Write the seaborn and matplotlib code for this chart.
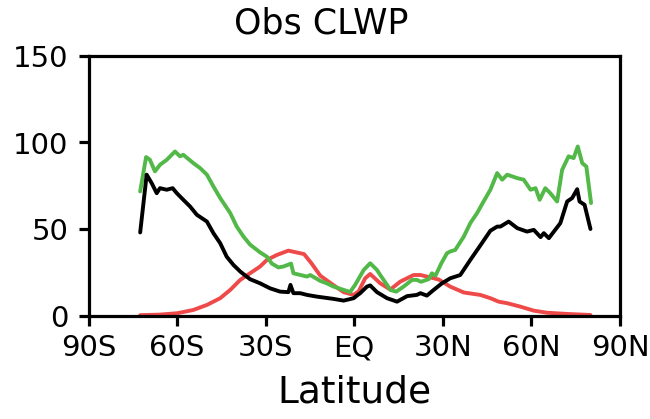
import numpy as np
import pandas as pd
import matplotlib
matplotlib.use("Agg")
import matplotlib.pyplot as plt
import seaborn as sns

# ---- data ----
black_lat = [-72.5, -70.3, -68.6, -66.9, -65.8, -63.5, -61.5, -60.1, -57.9, -55.6, -53.3, -49.9,
             -47.7, -45.4, -43.2, -40.9, -38.6, -35.3, -31.9, -28.5, -25.1, -22.3, -21.6, -20.6,
             -18.3, -16.0, -12.6, -7.0, -3.6, -0.2, 0.9, 2.0, 4.3, 5.4, 7.7, 11.1, 14.5, 17.9,
             21.2, 22.4, 24.6, 26.9, 29.7, 32.5, 35.9, 39.3, 42.7, 46.1, 48.4, 49.5, 52.3, 55.2,
             58.5, 60.8, 63.1, 64.2, 65.9, 67.6, 69.8, 72.1, 73.8, 75.5, 76.3, 78.0, 80.0]
black_val = [48.0, 81.4, 76.5, 70.7, 73.6, 72.7, 73.6, 70.7, 66.9, 63.0, 58.2, 54.3,
             47.6, 41.8, 34.0, 29.2, 25.4, 21.0, 18.6, 15.7, 13.8, 13.5, 17.7, 12.9,
             12.9, 11.9, 10.9, 9.6, 8.6, 10.0, 11.5, 12.9, 16.7, 17.4, 13.5, 10.0, 8.0, 11.2,
             11.9, 12.9, 11.5, 14.8, 18.6, 21.5, 23.4, 32.1, 40.5, 49.0, 51.4, 51.4, 54.3, 50.5,
             48.5, 49.5, 45.3, 47.6, 44.7, 48.5, 53.4, 65.9, 67.9, 73.0, 65.9, 64.0, 50.0]

green_lat = [-72.5, -70.5, -69.2, -67.5, -65.8, -63.5, -60.7, -59.0, -57.9, -54.5, -52.2, -49.9,
             -47.7, -45.4, -42.0, -39.8, -37.5, -35.3, -31.9, -29.6, -27.9, -25.7, -24.0, -21.4,
             -20.6, -16.0, -14.9, -11.5, -9.3, -7.0, -3.6, -1.4, 0.3, 3.2, 5.4, 7.7, 8.8, 11.1,
             12.2, 14.2, 16.7, 19.6, 21.2, 22.6, 25.2, 26.3, 27.5, 29.5, 31.4, 32.5, 34.2, 37.1,
             39.3, 41.6, 43.8, 46.1, 48.4, 50.1, 51.8, 55.2, 57.4, 59.7, 61.4, 62.8, 64.7, 66.4,
             68.7, 70.4, 72.6, 74.3, 75.7, 77.2, 78.6, 80.2]
green_val = [71.7, 91.6, 90.0, 83.3, 87.1, 90.0, 94.8, 92.0, 92.9, 88.1, 85.2, 81.4,
             74.6, 67.9, 59.2, 51.4, 45.6, 41.0, 36.5, 34.0, 30.0, 27.8, 28.3, 30.0,
             24.4, 22.5, 23.4, 20.0, 18.6, 16.7, 14.8, 13.6, 17.7, 26.3, 30.2, 26.3, 23.4, 17.7,
             14.8, 13.8, 16.7, 20.6, 20.6, 19.5, 21.0, 24.4, 23.0, 30.2, 36.0, 37.0, 37.9, 45.6,
             53.4, 59.2, 65.9, 72.7, 82.3, 78.5, 81.4, 79.4, 78.5, 72.7, 73.6, 66.9, 73.6, 70.7,
             65.9, 84.2, 92.0, 91.0, 97.7, 88.1, 86.1, 65.0]

red_lat = [-72.5, -66.0, -60.0, -54.5, -49.9, -45.4, -42.0, -38.6, -35.3, -31.9, -29.6, -26.2,
           -22.3, -19.4, -17.0, -14.5, -11.5, -7.0, -3.6, -0.2, 1.5, 3.7, 5.4, 8.8, 12.2,
           15.6, 20.1, 22.4, 24.6, 28.6, 32.5, 37.1, 42.7, 46.1, 48.9, 51.8, 56.3, 60.8,
           65.3, 72.1, 80.0]
red_val = [0.2, 0.5, 1.3, 3.2, 6.1, 10.0, 14.8, 20.6, 24.4, 28.3, 32.1, 35.0,
           37.5, 36.4, 35.5, 30.2, 23.0, 17.5, 13.5, 11.9, 14.0, 21.5, 24.0, 18.6, 15.0,
           19.6, 23.4, 23.4, 22.5, 20.8, 16.7, 13.3, 11.9, 10.0, 8.0, 7.1, 5.1, 2.8,
           1.6, 0.9, 0.3]

xticks = [-90, -60, -30, 0, 30, 60, 90]
xticklabels = ["90S", "60S", "30S", "EQ", "30N", "60N", "90N"]
yticks = [0, 50, 100, 150]

sns.set_theme(style="white")
plt.rcParams["font.family"] = ["DejaVu Sans"]

fig = plt.figure(figsize=(6.5, 4.19), dpi=100)
ax = fig.add_axes([88.5 / 650, 1 - 315.5 / 419, (620 - 88.5) / 650, (315.5 - 56) / 419])

lw = 2.8
sns.lineplot(x=red_lat, y=red_val, color="#ee4a4a", lw=lw, estimator=None, sort=False, ax=ax)
sns.lineplot(x=green_lat, y=green_val, color="#52b848", lw=lw, estimator=None, sort=False, ax=ax)
sns.lineplot(x=black_lat, y=black_val, color="black", lw=lw, estimator=None, sort=False, ax=ax)

ax.set_xlim(-90, 90)
ax.set_ylim(0, 150)
ax.set_xticks(xticks)
ax.set_xticklabels(xticklabels)
ax.set_yticks(yticks)
ax.set_yticklabels([str(v) for v in yticks])

for s in ax.spines.values():
    s.set_visible(True)
    s.set_color("black")
    s.set_linewidth(2.3)

ax.tick_params(axis="both", which="major", direction="out", length=7.5, width=2.3,
               color="black", labelsize=21, labelcolor="black")
ax.tick_params(axis="x", bottom=True, top=False, pad=6)
ax.tick_params(axis="y", left=True, right=False, pad=7)

ax.set_xlabel("Latitude", fontsize=27, color="black", labelpad=9)
ax.set_ylabel("")
fig.text(321 / 650, 1 - 24 / 419, "Obs CLWP", ha="center", va="center",
         fontsize=25, color="black")

fig.savefig("out.png", dpi=100, facecolor="white")
